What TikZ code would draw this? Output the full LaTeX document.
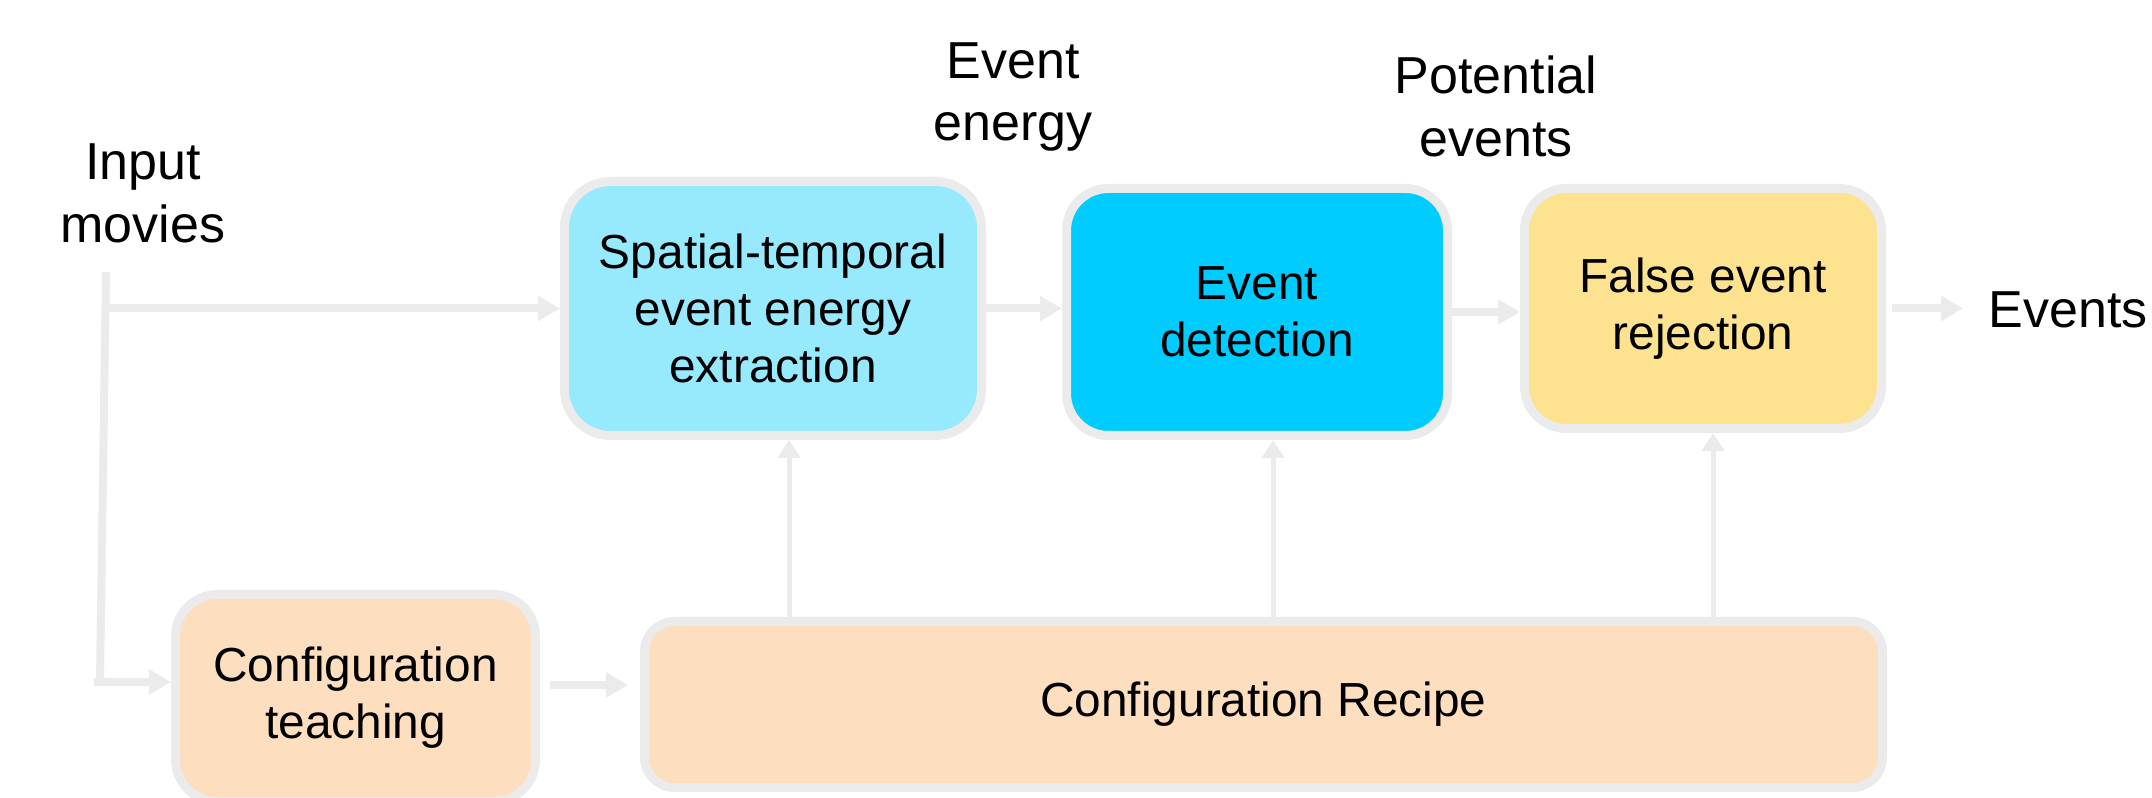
\documentclass[tikz,border=0pt]{standalone}
\usepackage{fontspec}
\setmainfont{Liberation Sans}
\usetikzlibrary{arrows.meta}

\definecolor{rimgray}{HTML}{EBEBEB}
\definecolor{skyfill}{HTML}{97E9FD}
\definecolor{cyanfill}{HTML}{00CCFF}
\definecolor{goldfill}{HTML}{FDE390}
\definecolor{peachfill}{HTML}{FDDEBE}

\begin{document}
\begin{tikzpicture}[
      block/.style={draw=rimgray, line width=0.09cm, rounded corners=0.42cm, align=center,
                    font=\fontsize{13.6pt}{16.3pt}\selectfont},
      tag/.style={align=center, font=\fontsize{14.8pt}{17.9pt}\selectfont},
      flow/.style={draw=rimgray, line width=0.08cm, -{Triangle[length=0.22cm,width=0.24cm]}},
      feed/.style={draw=rimgray, line width=0.05cm, -{Triangle[length=0.18cm,width=0.22cm]}}
   ]
            \useasboundingbox (0,0) rectangle (21.52,-7.98);

            % upper chain
            \node [block, fill=skyfill, minimum width=4.17cm, minimum height=2.54cm, rounded corners=0.46cm]
               (extract) at (7.73,-3.085) {Spatial-temporal\\event energy\\extraction};
            \node [block, fill=cyanfill, minimum width=3.81cm, minimum height=2.47cm]
               (detect) at (12.57,-3.12) {Event\\detection};
            \node [block, fill=goldfill, minimum width=3.57cm, minimum height=2.40cm]
               (reject) at (17.03,-3.085) {False event\\rejection};

            % lower chain
            \node [block, fill=peachfill, minimum width=3.60cm, minimum height=2.07cm]
               (teach) at (3.555,-6.98) {Configuration\\teaching};
            \node [block, fill=peachfill, minimum width=12.38cm, minimum height=1.66cm, rounded corners=0.3cm]
               (recipe) at (12.635,-7.045) {Configuration Recipe};

            % labels
            \node [tag] (movies) at (1.43,-1.93) {Input\\movies};
            \node [tag] (energy) at (10.13,-0.97) {Event\\energy};
            \node [tag] (potential) at (14.96,-1.065) {Potential\\events};
            \node [tag] (out) at (20.68,-3.095) {Events};

            % input split
            \coordinate (in top) at (1.06,-2.72);
            \coordinate (in bottom) at (1.00,-6.80);
            \coordinate (teach in) at (0.94,-6.82);
            \draw [draw=rimgray, line width=0.08cm] (in top) -- (in bottom);
            \draw [flow] (in top |- extract.west) -- (extract.west);
            \draw [flow] (teach in) -- (teach in -| teach.west);

            \draw [flow] (extract.east) -- (extract.east -| detect.west);
            \draw [flow] (detect.east) -- (detect.east -| reject.west);
            \draw [flow, shorten <=0.06cm, shorten >=0.13cm] (reject.east) -- (reject.east -| out.west);
            \draw [flow, shorten <=0.1cm, shorten >=0.12cm]
               ([yshift=0.13cm]teach.east) -- ([yshift=0.13cm]teach.east -| recipe.west);

            % recipe feeds
            \draw [feed] ([xshift=0.16cm]extract.south |- recipe.north) -- ([xshift=0.16cm]extract.south);
            \draw [feed] ([xshift=0.16cm]detect.south |- recipe.north) -- ([xshift=0.16cm]detect.south);
            \draw [feed] ([xshift=0.10cm]reject.south |- recipe.north) -- ([xshift=0.10cm]reject.south);
         \end{tikzpicture}
\end{document}
